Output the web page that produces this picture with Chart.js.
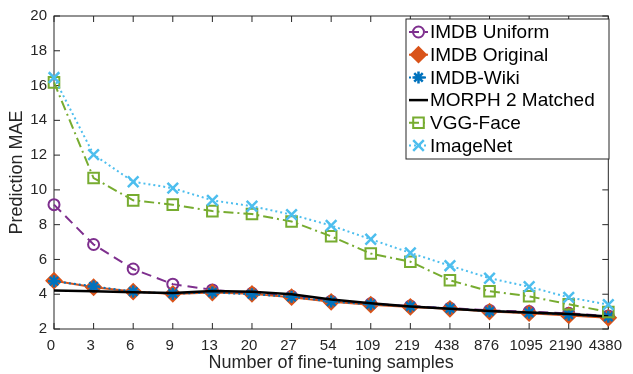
<!DOCTYPE html>
<html><head><meta charset="utf-8">
<script src="https://cdn.jsdelivr.net/npm/chart.js@4.4.1/dist/chart.umd.min.js"></script>
<style>html,body{margin:0;padding:0;background:#fff}#wrap{width:633px;height:374px;position:relative}</style>
</head><body><div id="wrap"><canvas id="c" width="633" height="374"></canvas></div>
<script>
const categories = ['0','3','6','9','13','20','27','54','109','219','438','876','1095','2190','4380'];
const imdbUniform  = [9.15, 6.86, 5.45, 4.58, 4.25, 4.05, 3.88, 3.60, 3.45, 3.32, 3.20, 3.07, 3.00, 2.90, 2.75];
const imdbOriginal = [4.78, 4.40, 4.15, 4.02, 4.10, 4.02, 3.83, 3.56, 3.40, 3.27, 3.16, 3.00, 2.91, 2.78, 2.64];
const imdbWiki     = [4.75, 4.45, 4.15, 4.03, 4.10, 4.00, 3.85, 3.58, 3.42, 3.30, 3.18, 3.02, 2.93, 2.82, 2.70];
const morph2       = [4.22, 4.17, 4.12, 4.07, 4.18, 4.14, 4.00, 3.70, 3.48, 3.30, 3.16, 3.03, 2.95, 2.86, 2.72];
const vggFace      = [16.18, 10.68, 9.40, 9.15, 8.78, 8.61, 8.18, 7.33, 6.34, 5.87, 4.80, 4.17, 3.88, 3.42, 2.98];
const imageNet     = [16.46, 12.03, 10.47, 10.10, 9.40, 9.06, 8.58, 7.95, 7.16, 6.38, 5.64, 4.92, 4.43, 3.82, 3.40];
const yTicks = [2, 4, 6, 8, 10, 12, 14, 16, 18, 20];
const seriesNames = ['IMDB Uniform', 'IMDB Original', 'IMDB-Wiki', 'MORPH 2 Matched', 'VGG-Face', 'ImageNet'];

const FONT = "'Liberation Sans', Arial, Helvetica, sans-serif";
const AXIS = '#262626';

function drawMarker(ctx, style, x, y, r, stroke, fill, lw) {
  if (!style || r <= 0) return;
  ctx.save();
  ctx.setLineDash([]);
  ctx.lineWidth = lw; ctx.strokeStyle = stroke; ctx.fillStyle = fill;
  ctx.beginPath();
  let closed = false;
  if (style === 'circle') { ctx.arc(x, y, r, 0, Math.PI * 2); closed = true; }
  else if (style === 'rect') { const s = r * Math.SQRT1_2; ctx.rect(x - s, y - s, 2 * s, 2 * s); closed = true; }
  else if (style === 'rectRot') { ctx.moveTo(x, y - r); ctx.lineTo(x + r, y); ctx.lineTo(x, y + r); ctx.lineTo(x - r, y); ctx.closePath(); closed = true; }
  else if (style === 'crossRot' || style === 'star') {
    const d = r * Math.SQRT1_2;
    ctx.moveTo(x - d, y - d); ctx.lineTo(x + d, y + d);
    ctx.moveTo(x + d, y - d); ctx.lineTo(x - d, y + d);
    if (style === 'star') { ctx.moveTo(x - r, y); ctx.lineTo(x + r, y); ctx.moveTo(x, y - r); ctx.lineTo(x, y + r); }
  }
  if (closed && fill && fill !== 'transparent') ctx.fill();
  ctx.stroke();
  ctx.restore();
}

const boxPlugin = {
  id: 'boxTicks',
  beforeDatasetsDraw(chart) {
    const { ctx, chartArea: a, scales } = chart;
    const x = scales.x, y = scales.y;
    ctx.save();
    ctx.strokeStyle = AXIS; ctx.lineWidth = 1;
    ctx.strokeRect(a.left, a.top, a.right - a.left, a.bottom - a.top);
    ctx.beginPath();
    const tl = 6;
    categories.forEach((c, i) => {
      const px = x.getPixelForValue(i);
      ctx.moveTo(px, a.bottom); ctx.lineTo(px, a.bottom - tl);
      ctx.moveTo(px, a.top); ctx.lineTo(px, a.top + tl);
    });
    yTicks.forEach(v => {
      const py = y.getPixelForValue(v);
      ctx.moveTo(a.left, py); ctx.lineTo(a.left + tl, py);
      ctx.moveTo(a.right, py); ctx.lineTo(a.right - tl, py);
    });
    ctx.stroke();
    ctx.restore();
  }
};

const legendPlugin = {
  id: 'matLegend',
  afterDraw(chart) {
    const ctx = chart.ctx;
    const bx = 406, by = 19, bw = 203, bh = 140;
    ctx.save();
    ctx.fillStyle = '#fff';
    ctx.fillRect(bx, by, bw, bh);
    ctx.strokeStyle = AXIS; ctx.lineWidth = 1;
    ctx.strokeRect(bx, by, bw, bh);
    ctx.font = '19px ' + FONT;
    ctx.textBaseline = 'middle';
    ctx.textAlign = 'left';
    chart.data.datasets.forEach((ds, i) => {
      const cy = 32 + i * 22.7;
      ctx.save();
      ctx.strokeStyle = ds.borderColor; ctx.lineWidth = ds.borderWidth;
      ctx.setLineDash(ds.borderDash || []);
      ctx.beginPath(); ctx.moveTo(409, cy); ctx.lineTo(428, cy); ctx.stroke();
      ctx.restore();
      drawMarker(ctx, ds.pointStyle, 418.5, cy, ds.pointRadius, ds.pointBorderColor, ds.pointBackgroundColor, ds.pointBorderWidth);
      ctx.fillStyle = '#000';
      ctx.fillText(ds.label, 430, cy + 1);
    });
    ctx.restore();
  }
};

function mk(label, data, color, dash, width, style, radius, fill, pbw, order) {
  return {
    label, data, borderColor: color, borderWidth: width, borderDash: dash,
    pointStyle: style || 'circle', pointRadius: radius, pointBorderColor: color,
    pointBackgroundColor: fill, pointBorderWidth: pbw, pointHoverRadius: radius,
    tension: 0, fill: false, clip: false, order
  };
}

const datasets = [
  mk(seriesNames[0], imdbUniform, '#7E2F8E', [10, 6], 2, 'circle', 5.5, 'transparent', 2, 5),
  mk(seriesNames[1], imdbOriginal, '#D95319', [], 2, 'rectRot', 7.5, '#D95319', 2, 4),
  mk(seriesNames[2], imdbWiki, '#0072BD', [2, 3], 2, 'star', 6, '#0072BD', 2.5, 3),
  mk(seriesNames[3], morph2, '#000000', [], 2.5, false, 0, '#000000', 0, 2),
  mk(seriesNames[4], vggFace, '#77AC30', [10, 4, 2, 4], 2, 'rect', 7.5, 'transparent', 2, 1),
  mk(seriesNames[5], imageNet, '#4DBEEE', [2, 3], 2, 'crossRot', 7.5, '#4DBEEE', 2.5, 0)
];

new Chart(document.getElementById('c'), {
  type: 'line',
  data: { labels: categories, datasets },
  plugins: [boxPlugin, legendPlugin],
  options: {
    responsive: false,
    devicePixelRatio: 1,
    animation: false,
    layout: { padding: { left: 0, right: 18, top: 12, bottom: 0 } },
    plugins: { legend: { display: false }, tooltip: { enabled: false } },
    scales: {
      x: {
        type: 'category', offset: false,
        grid: { display: false, drawTicks: false },
        border: { display: false },
        ticks: { color: AXIS, font: { family: FONT, size: 15 }, padding: 8, maxRotation: 0, autoSkip: false, labelOffset: -3 },
        title: { display: true, text: 'Number of fine-tuning samples', color: AXIS, font: { family: FONT, size: 18 }, padding: { top: 0, bottom: 0 } },
        afterFit: s => { s.height = 45; }
      },
      y: {
        min: 2, max: 20,
        grid: { display: false, drawTicks: false },
        border: { display: false },
        ticks: { color: AXIS, font: { family: FONT, size: 15 }, padding: 7, stepSize: 2 },
        afterBuildTicks: s => { s.ticks = yTicks.map(v => ({ value: v })); },
        title: { display: true, text: 'Prediction MAE', color: AXIS, font: { family: FONT, size: 18 }, padding: { top: 6, bottom: 0 } },
        afterFit: s => { s.width = 54; }
      }
    }
  }
});
</script>
</body></html>
